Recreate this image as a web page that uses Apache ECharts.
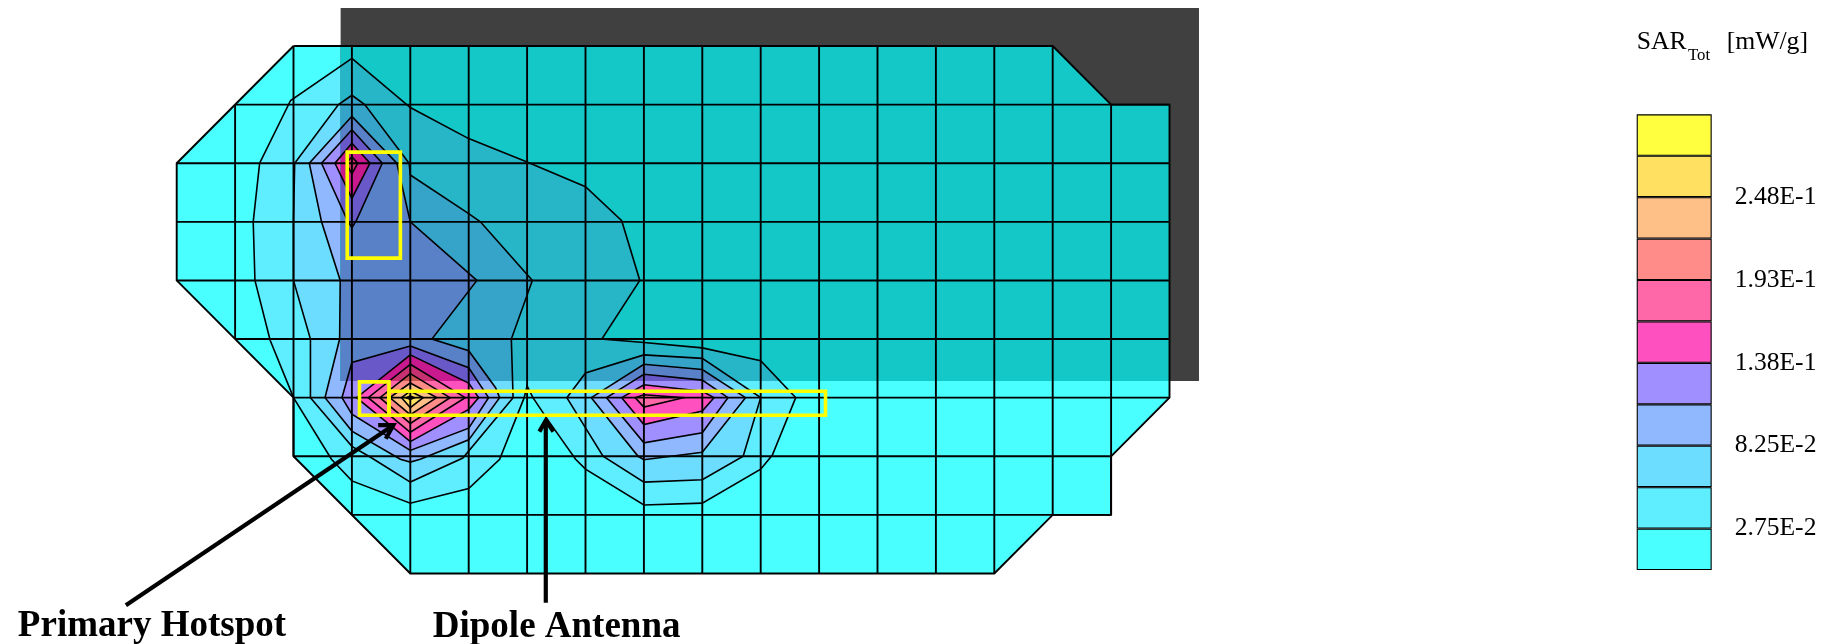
<!DOCTYPE html>
<html>
<head>
<meta charset="utf-8">
<style>html,body{margin:0;padding:0;background:#fff}#c{width:1823px;height:644px}</style>
<script src="https://cdn.jsdelivr.net/npm/echarts@6/dist/echarts.min.js"></script>
</head>
<body>
<div id="c"></div>
<script>
// All shapes are in mesh-cell units (column i, row j) and go through the axes.
const levelColors = ['#4AFFFF','#5EEEFF','#6CDCFF','#90B8FF','#A090FF','#FF50C0','#FF68A8','#FF8C88','#FFC088','#FFE060','#FFFF40'];
const shadedColors = ['#14C8C8','#27B6C8','#36A4C8','#5981C8','#6959C8','#C8198F','#C83171','#C85551','#C88951','#C8A929','#C8C809'];
const legendLabels = {1:'2.75E-2',3:'8.25E-2',5:'1.38E-1',7:'1.93E-1',9:'2.48E-1'};

const meshOutline = [[2,0],[15,0],[16,1],[17,1],[17,6],[16,7],[16,8],[15,8],[14,9],[4,9],[2,7],[2,6],[0,4],[0,2]];
const meshColumns = [[1,1,5],[2,0,7],[3,0,8],[4,0,9],[5,0,9],[6,0,9],[7,0,9],[8,0,9],[9,0,9],[10,0,9],[11,0,9],[12,0,9],[13,0,9],[14,0,9],[15,0,8],[16,1,8]];
const meshRows = [[1,1,17],[2,0,17],[3,0,17],[4,0,17],[5,1,17],[6,2,17],[7,2,16],[8,3,16]];

const level1Main = [[3,.21],[4,1.05],[5,1.58],[6,1.98],[7,2.4],[7.62,2.98],[7.93,4],[7.28,5],[8,5.06],[9,5.15],[10,5.37],[10.6,6],[10.2,6.98],[10,7.22],[9,7.8],[8,7.83],[7,7.22],[6.83,7.05],[6.37,6.4],[6.1,6],[6,5.8],[5.95,6],[5.53,7.05],[5,7.55],[4,7.8],[3,7.42],[2.65,7.05],[2,6],[1.6,5.02],[1.34,4],[1.31,3],[1.42,2],[1.95,.93]];
const level2Main = [[3,.84],[3.22,1],[3.98,2],[4,2.2],[5,2.86],[5.2,3],[6.09,4],[5.73,5],[5.76,6],[4.9,7.03],[4,7.44],[3.34,7.03],[3,6.83],[2.29,6],[2.29,5],[2,4],[2,3],[2.02,2],[2.77,1]];
const level2Right = [[6.68,6],[7,5.58],[8,5.27],[9,5.33],[10,6],[9.7,7],[9,7.4],[8,7.44],[7.3,7]];
const level3Main = [[3,1.2],[3.77,2],[4,3],[5.14,4],[4.37,5],[5,5.2],[5.46,5.83],[5.53,6],[5,6.72],[4.17,7.05],[4,7.1],[3.83,7.05],[3,6.57],[2.54,6],[2.79,5],[2.8,4],[2.48,3],[2.27,2]];
const level3Right = [[7.1,6],[8,5.43],[9,5.52],[9.74,6],[9,6.93],[8,7.06],[7.9,7]];
const level4Top = [[3,1.43],[3.52,2],[3.08,2.97],[3,3.1],[2.92,2.97],[2.48,2]];
const level4Main = [[4,5.12],[5,5.49],[5.34,6],[5,6.52],[4,6.9],[3,6.28],[2.83,6],[3,5.4]];
const level4Right = [[7.36,6],[8,5.6],[9,5.7],[9.44,6],[9,6.6],[8,6.77]];
const level5Top = [[3,1.66],[3.31,2],[3,2.6],[2.71,2]];
const level5Main = [[4,5.27],[5,5.75],[5.17,6],[5,6.2],[4,6.75],[3.08,6]];
const level5Right = [[7.62,6],[8,5.78],[9,5.89],[9.2,6],[9,6.23],[8,6.46]];
const level6Top = [[3,1.89],[3.1,2],[3,2.18],[2.9,2]];
const level6Main = [[4,5.43],[4.94,6],[4,6.59],[3.28,6]];
const level6Right = [[7.85,6],[8,5.95],[8.68,6],[8,6.16]];
const level7Main = [[4,5.59],[4.68,6],[4,6.44],[3.48,6]];
const level8Main = [[4,5.75],[4.45,6],[4,6.29],[3.65,6]];
const level9Main = [[4,5.89],[4.22,6],[4,6.17],[3.85,6]];
const level10Main = [[4,5.97],[4.07,6],[4,6.03],[3.93,6]];

const contourBands = [
  [1,level1Main],[2,level2Main],[2,level2Right],[3,level3Main],[3,level3Right],
  [4,level4Top],[4,level4Main],[4,level4Right],[5,level5Top],[5,level5Main],[5,level5Right],
  [6,level6Top],[6,level6Main],[6,level6Right],[7,level7Main],[8,level8Main],[9,level9Main],[10,level10Main]
];

const groundPlane = [2.807,-0.65,17.505,5.716];
const yellowBoxes = [[2.92,1.81,3.83,3.62],[3.13,5.73,3.635,6.3],[3.635,5.89,11.11,6.3]];
const arrowShafts = [[[-.87,9.54],[3.71,6.47]],[[6.32,9.5],[6.32,6.39]]];
const arrowHeads = [[[3.45,6.47],[3.71,6.47],[3.58,6.7]],[[6.21,6.58],[6.32,6.39],[6.45,6.58]]];
const annotations = [['Primary Hotspot',-2.72,9.9],['Dipole Antenna',4.385,9.92]];

const chart = echarts.init(document.getElementById('c'), null, {renderer:'canvas'});
const ids = a => a.map((_,k)=>[k]);
const pts = (api,list) => list.map(p => api.coord(p));
const layer = (z,data,fn) => ({type:'custom',coordinateSystem:'cartesian2d',xAxisIndex:0,yAxisIndex:0,z,silent:true,animation:false,data:ids(data),renderItem:(p,api)=>fn(api,data[p.dataIndex])});
const poly = (api,list,style) => ({type:'polygon',shape:{points:pts(api,list)},style});
const line = (api,list,width,color) => ({type:'polyline',shape:{points:pts(api,list)},style:{fill:'none',stroke:color||'#000',lineWidth:width,lineJoin:'miter'}});
const boxShape = (api,b) => { const a=api.coord([b[0],b[1]]), c=api.coord([b[2],b[3]]); return {x:a[0],y:a[1],width:c[0]-a[0],height:c[1]-a[1]}; };
const box = (api,b,style) => ({type:'rect',shape:boxShape(api,b),style});
const shaded = (api,list,fill) => Object.assign(poly(api,list,{fill}),{clipPath:{type:'rect',shape:boxShape(api,groundPlane)}});
const serif = '"Liberation Serif","Times New Roman",serif';

chart.setOption({
  backgroundColor:'#fff',
  animation:false,
  tooltip:{show:false},
  grid:[
    {left:176.7,top:46,width:992.8,height:527.5},
    {left:1636.7,top:114.3,width:75,height:455.7}
  ],
  xAxis:[
    {type:'value',gridIndex:0,min:0,max:17,show:false},
    {type:'category',gridIndex:1,data:['SAR'],show:false}
  ],
  yAxis:[
    {type:'value',gridIndex:0,min:0,max:9,inverse:true,show:false},
    {type:'value',gridIndex:1,min:0,max:11,interval:1,position:'right',splitLine:{show:false},axisLine:{show:false},axisTick:{show:false},
     axisLabel:{show:true,margin:23,color:'#000',fontFamily:serif,fontSize:25.6,align:'left',showMinLabel:true,showMaxLabel:true,formatter:v=>legendLabels[v]||''}}
  ],
  series:[
    layer(2,[meshOutline],(api,d)=>poly(api,d,{fill:levelColors[0]})),
    layer(3,contourBands,(api,d)=>poly(api,d[1],{fill:levelColors[d[0]]})),
    layer(4,[groundPlane],(api,b)=>box(api,b,{fill:'#404040'})),
    layer(4.1,[meshOutline],(api,d)=>shaded(api,d,shadedColors[0])),
    layer(4.2,contourBands,(api,d)=>shaded(api,d[1],shadedColors[d[0]])),
    layer(5,contourBands,(api,d)=>line(api,d[1].concat([d[1][0]]),1.6)),
    layer(6,meshColumns,(api,d)=>line(api,[[d[0],d[1]],[d[0],d[2]]],1.9)),
    layer(6,meshRows,(api,d)=>line(api,[[d[1],d[0]],[d[2],d[0]]],1.9)),
    layer(6,[meshOutline],(api,d)=>line(api,d.concat([d[0]]),1.9)),
    layer(7,yellowBoxes,(api,b)=>box(api,b,{fill:'none',stroke:'#FFFF00',lineWidth:3.6})),
    layer(8,arrowShafts,(api,d)=>line(api,d,4.2)),
    layer(8,arrowHeads,(api,d)=>line(api,d,4.2)),
    layer(9,annotations,(api,d)=>{const c=api.coord([d[1],d[2]]);return {type:'text',x:c[0],y:c[1],style:{text:d[0],fill:'#000',font:'bold 37px '+serif,textAlign:'left',textVerticalAlign:'middle'}};})
  ].concat(levelColors.map(color=>({
    type:'bar',xAxisIndex:1,yAxisIndex:1,stack:'legend',barWidth:'100%',silent:true,animation:false,
    data:[1],itemStyle:{color,borderColor:'#000',borderWidth:1.1}
  }))),
  graphic:[
    {type:'text',x:1636.7,y:55.5,style:{text:'SAR',fill:'#000',font:'25.7px '+serif,textVerticalAlign:'bottom'}},
    {type:'text',x:1688,y:64.5,style:{text:'Tot',fill:'#000',font:'16.8px '+serif,textVerticalAlign:'bottom'}},
    {type:'text',x:1726.7,y:55.5,style:{text:'[mW/g]',fill:'#000',font:'25.7px '+serif,textVerticalAlign:'bottom'}}
  ]
});
</script>
</body>
</html>
